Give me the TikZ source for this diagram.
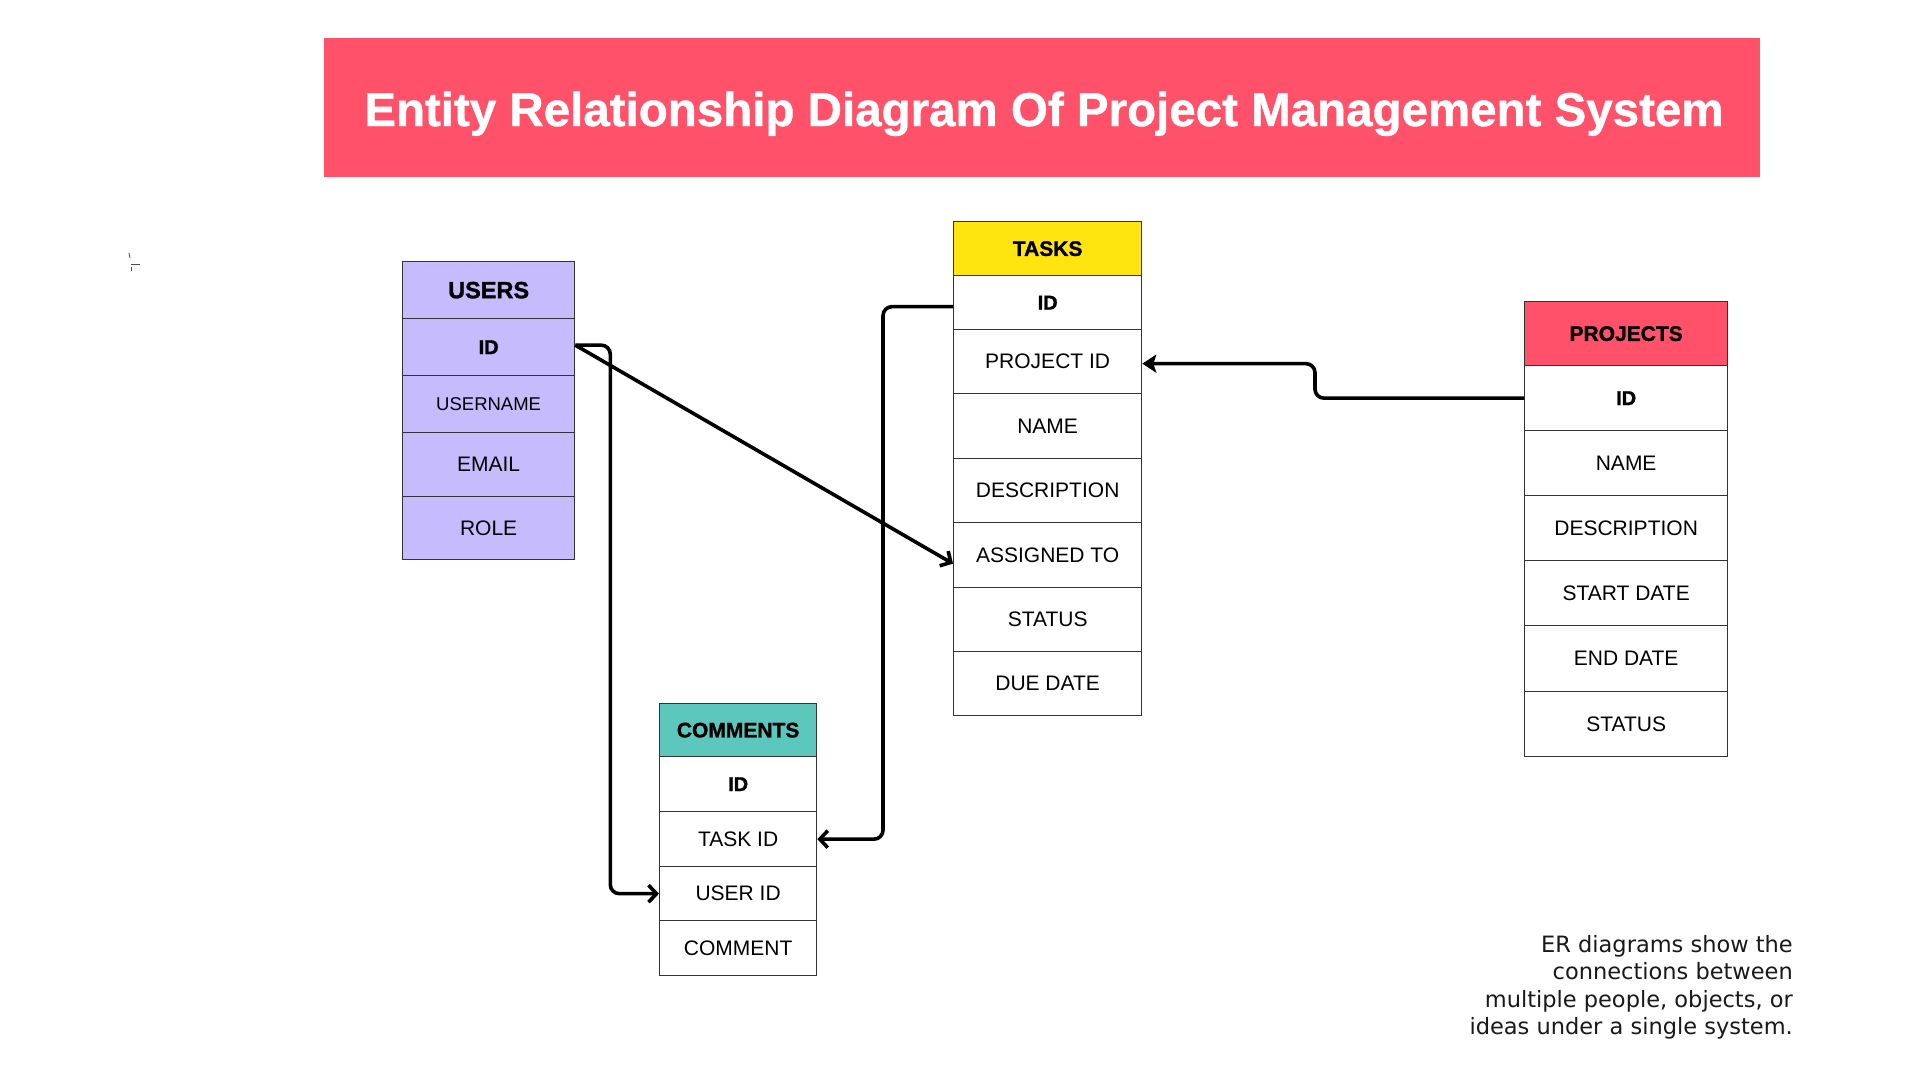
\documentclass[tikz,border=0pt]{standalone}
\usepackage{fontspec}
\setmainfont{Liberation Sans}
\newfontfamily\notefont{DejaVu Sans}
\newfontfamily\heavyfont[FakeBold=1.3]{Liberation Sans Bold}
\newfontfamily\titlefont[FakeBold=0.8]{Liberation Sans Bold}
\usetikzlibrary{arrows.meta}
\definecolor{bannerred}{HTML}{FF5169}
\definecolor{userslav}{HTML}{C6BBFC}
\definecolor{tasksyel}{HTML}{FFE50F}
\definecolor{commteal}{HTML}{5CC8BD}
\begin{document}
\begin{tikzpicture}[x=1pt,y=-1pt,
  cell/.style={draw=black!80, line width=1.3pt, anchor=north west, inner sep=0pt,
    font=\fontsize{21}{25}\selectfont, text=black},
  hdr/.style={cell, font=\heavyfont\fontsize{21}{25}\selectfont},
  key/.style={cell, font=\heavyfont\fontsize{20}{24}\selectfont},
  conn/.style={draw=black, line width=3.6pt, rounded corners=9pt},
  barb/.style={-{Straight Barb[length=8pt,width=17pt]}},
  solidtip/.style={-{Stealth[length=14pt,width=18pt,inset=3pt]}}
]
\useasboundingbox (0,0) rectangle (1920,1080);
\fill[white] (0,0) rectangle (1920,1080);

% title banner
\node[fill=bannerred, anchor=north west, inner sep=0pt, minimum width=1436pt, minimum height=139pt] (banner) at (324,38) {};
\node[anchor=base, inner sep=0pt, text=white, font=\titlefont\fontsize{47.5}{50}\selectfont] (title) at (1044,126) {Entity Relationship Diagram Of Project Management System};

% small stray marks
\draw[black!70, line width=0.8pt] (129,253) -- (130,258);
\draw[black!70, line width=0.8pt] (131,264) -- (140,264);
\draw[black!70, line width=0.8pt] (131,267) -- (131,271);

% USERS
\begin{scope}[every node/.append style={fill=userslav, minimum width=172pt}]
\node[hdr, minimum height=57pt, font=\heavyfont\fontsize{23.5}{28}\selectfont] (u0) at (402,261) {USERS};
\node[key, minimum height=57pt] (u1) at (402,318) {ID};
\node[cell, minimum height=57pt, font=\fontsize{18.5}{22}\selectfont] (u2) at (402,375) {USERNAME};
\node[cell, minimum height=64pt] (u3) at (402,432) {EMAIL};
\node[cell, minimum height=63pt] (u4) at (402,496) {ROLE};
\end{scope}

% TASKS
\begin{scope}[every node/.append style={minimum width=188pt}]
\node[hdr, fill=tasksyel, minimum height=54pt] (t0) at (953,221) {TASKS};
\node[key, minimum height=54pt] (t1) at (953,275) {ID};
\node[cell, minimum height=64pt] (t2) at (953,329) {PROJECT ID};
\node[cell, minimum height=65pt] (t3) at (953,393) {NAME};
\node[cell, minimum height=64pt] (t4) at (953,458) {DESCRIPTION};
\node[cell, minimum height=65pt] (t5) at (953,522) {ASSIGNED TO};
\node[cell, minimum height=64pt] (t6) at (953,587) {STATUS};
\node[cell, minimum height=64pt] (t7) at (953,651) {DUE DATE};
\end{scope}

% PROJECTS
\begin{scope}[every node/.append style={minimum width=203pt}]
\node[hdr, fill=bannerred, minimum height=64pt] (p0) at (1524,301) {PROJECTS};
\node[key, minimum height=65pt] (p1) at (1524,365) {ID};
\node[cell, minimum height=65pt] (p2) at (1524,430) {NAME};
\node[cell, minimum height=65pt] (p3) at (1524,495) {DESCRIPTION};
\node[cell, minimum height=65pt] (p4) at (1524,560) {START DATE};
\node[cell, minimum height=66pt] (p5) at (1524,625) {END DATE};
\node[cell, minimum height=65pt] (p6) at (1524,691) {STATUS};
\end{scope}

% COMMENTS
\begin{scope}[every node/.append style={minimum width=157pt}]
\node[hdr, fill=commteal, minimum height=53pt] (c0) at (659,703) {COMMENTS};
\node[key, minimum height=55pt] (c1) at (659,756) {ID};
\node[cell, minimum height=55pt] (c2) at (659,811) {TASK ID};
\node[cell, minimum height=54pt] (c3) at (659,866) {USER ID};
\node[cell, minimum height=55pt] (c4) at (659,920) {COMMENT};
\end{scope}

% connectors
\draw[conn, barb] ([yshift=2pt]u1.east) -- ++(35,0) |- (c3.west);
\draw[conn, barb] ([yshift=-4pt]t1.west) -- ++(-70,0) |- (c2.east);
\draw[conn, solidtip] (p1.west) -- ++(-209,0) |- ([yshift=-2pt]t2.east);
\draw[conn, barb] ([yshift=2pt]u1.east) -- ([yshift=-8.5pt]t5.west);

% note
\node[anchor=north east, inner sep=0pt, align=right, text=black!90,
  font=\notefont\fontsize{22.5}{27.5}\selectfont] (note) at (1793,935)
  {ER diagrams show the\\connections between\\multiple people, objects, or\\ideas under a single system.};
\end{tikzpicture}
\end{document}
